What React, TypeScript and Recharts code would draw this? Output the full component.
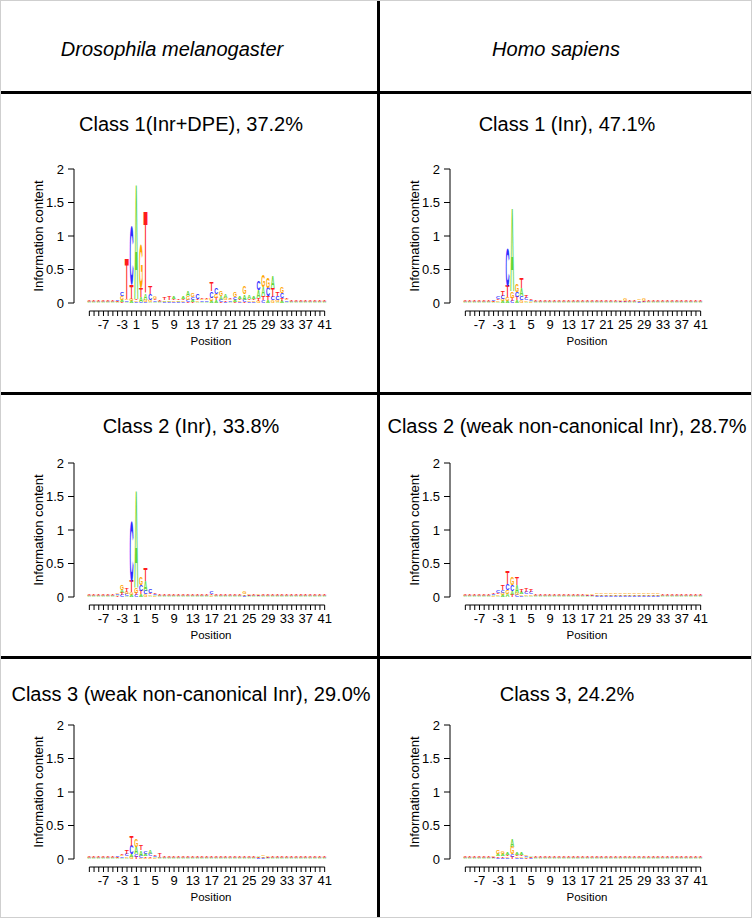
import React from 'react';
import { BarChart, Bar, XAxis, YAxis } from 'recharts';

// positions -10..41, there is no position 0
const positions = [
  -10, -9, -8, -7, -6, -5, -4, -3, -2, -1,
  1, 2, 3, 4, 5, 6, 7, 8, 9, 10,
  11, 12, 13, 14, 15, 16, 17, 18, 19, 20,
  21, 22, 23, 24, 25, 26, 27, 28, 29, 30,
  31, 32, 33, 34, 35, 36, 37, 38, 39, 40, 41,
];

const species = ['Drosophila melanogaster', 'Homo sapiens'];
const yTicks = [0, 0.5, 1, 1.5, 2];

// Drosophila class 1 (Inr+DPE)
const dmC1A = [
  .01, .01, .01, .01, .01, .01, .01, .03, .02, .03,
  1.76, .07, .10, .02, .02, .01, .02, .02, .03, .02,
  .03, .08, .03, .02, .02, .02, .03, .04, .05, .05,
  .02, .03, .03, .08, .05, .03, .12, .14, .04, .18,
  .02, .03, .02, .01, .01, .01, .01, .01, .01, .01, .01,
];
const dmC1C = [
  .01, .01, .01, .01, .01, .01, .02, .06, .02, .90,
  .02, .02, .02, .09, .02, .01, .01, .01, .02, .01,
  .02, .03, .04, .08, .02, .02, .10, .10, .03, .02,
  .02, .04, .02, .03, .02, .02, .14, .04, .13, .05,
  .06, .08, .02, .01, .01, .01, .01, .01, .01, .01, .01,
];
const dmC1G = [
  .01, .01, .01, .01, .01, .01, .01, .05, .02, .03,
  .02, .67, .03, .03, .04, .01, .01, .01, .02, .01,
  .02, .05, .06, .02, .02, .02, .05, .06, .08, .03,
  .02, .08, .02, .12, .02, .02, .03, .18, .16, .04,
  .03, .09, .02, .01, .01, .01, .01, .01, .01, .01, .01,
];
const dmC1T = [
  .01, .01, .01, .01, .01, .01, .01, .02, .62, .22,
  .02, .13, 1.24, .12, .02, .01, .04, .05, .02, .02,
  .02, .02, .02, .02, .02, .02, .14, .04, .02, .02,
  .02, .02, .02, .02, .02, .02, .04, .06, .06, .14,
  .06, .04, .02, .01, .01, .01, .01, .01, .01, .01, .01,
];

// Homo class 1 (Inr)
const hsC1A = [
  .01, .01, .01, .01, .01, .01, .01, .02, .03, .03,
  1.27, .04, .12, .02, .02, .01, .01, .01, .01, .01,
  .01, .01, .01, .01, .01, .01, .01, .01, .01, .01,
  .01, .01, .01, .01, .01, .01, .01, .02, .01, .01,
  .01, .01, .01, .01, .01, .01, .01, .01, .01, .01, .01,
];
const hsC1C = [
  .01, .01, .01, .01, .01, .01, .02, .03, .05, .58,
  .03, .07, .06, .03, .02, .01, .01, .01, .01, .01,
  .01, .01, .01, .01, .01, .01, .01, .01, .01, .01,
  .01, .01, .01, .01, .01, .01, .01, .01, .01, .01,
  .01, .01, .01, .01, .01, .01, .01, .01, .01, .01, .01,
];
const hsC1G = [
  .01, .01, .01, .01, .01, .01, .01, .02, .03, .06,
  .10, .12, .04, .02, .01, .01, .01, .01, .01, .01,
  .01, .01, .01, .01, .01, .01, .01, .01, .01, .01,
  .01, .01, .01, .02, .03, .01, .01, .02, .03, .01,
  .01, .01, .01, .01, .01, .01, .01, .01, .01, .01, .01,
];
const hsC1T = [
  .01, .01, .01, .01, .01, .01, .01, .02, .07, .17,
  .05, .05, .16, .03, .02, .01, .01, .01, .01, .01,
  .01, .01, .01, .01, .01, .01, .01, .01, .01, .01,
  .01, .01, .01, .01, .01, .01, .01, .01, .01, .01,
  .01, .01, .01, .01, .01, .01, .01, .01, .01, .01, .01,
];

// Drosophila class 2 (Inr)
const dmC2A = [
  .01, .01, .01, .01, .01, .01, .02, .05, .02, .03,
  1.48, .04, .15, .02, .02, .01, .01, .01, .01, .01,
  .01, .01, .01, .01, .01, .01, .02, .01, .01, .01,
  .01, .01, .01, .02, .01, .01, .01, .01, .01, .01,
  .01, .01, .01, .01, .01, .01, .01, .01, .01, .01, .01,
];
const dmC2C = [
  .01, .01, .01, .01, .01, .01, .02, .03, .03, .92,
  .03, .09, .05, .06, .02, .01, .01, .01, .01, .01,
  .01, .01, .01, .01, .01, .01, .03, .01, .01, .01,
  .01, .01, .01, .01, .01, .01, .01, .01, .01, .01,
  .01, .01, .01, .01, .01, .01, .01, .01, .01, .01, .01,
];
const dmC2G = [
  .01, .01, .01, .01, .01, .01, .02, .07, .03, .04,
  .07, .11, .04, .02, .01, .01, .01, .01, .01, .01,
  .01, .01, .01, .01, .01, .01, .01, .01, .01, .01,
  .01, .01, .01, .03, .02, .01, .02, .01, .01, .01,
  .01, .01, .01, .01, .01, .01, .01, .01, .01, .01, .01,
];
const dmC2T = [
  .01, .01, .01, .01, .01, .01, .01, .03, .05, .17,
  .03, .05, .20, .02, .02, .01, .01, .01, .01, .01,
  .01, .01, .01, .01, .01, .01, .02, .01, .01, .01,
  .01, .01, .01, .01, .01, .01, .01, .01, .01, .01,
  .01, .01, .01, .01, .02, .02, .02, .01, .01, .01, .01,
];

// Homo class 2 (weak non-canonical Inr)
const hsC2A = [
  .01, .01, .01, .01, .01, .01, .02, .02, .03, .05,
  .06, .12, .03, .02, .02, .01, .01, .01, .01, .01,
  .01, .01, .01, .01, .01, .01, .01, .01, .02, .02,
  .02, .02, .02, .02, .02, .02, .02, .02, .02, .02,
  .02, .02, .01, .01, .01, .01, .01, .01, .01, .01, .01,
];
const hsC2C = [
  .01, .01, .01, .01, .01, .01, .02, .03, .04, .10,
  .09, .03, .02, .04, .03, .01, .01, .01, .01, .01,
  .01, .01, .01, .01, .01, .01, .01, .01, .01, .01,
  .01, .01, .01, .01, .01, .01, .01, .01, .01, .01,
  .01, .01, .01, .01, .01, .01, .01, .01, .01, .01, .01,
];
const hsC2G = [
  .01, .01, .01, .01, .01, .01, .01, .02, .03, .05,
  .12, .03, .02, .02, .02, .01, .01, .01, .01, .01,
  .01, .01, .01, .01, .01, .01, .02, .02, .02, .02,
  .02, .02, .02, .02, .02, .02, .02, .02, .02, .02,
  .02, .02, .01, .01, .01, .01, .01, .01, .01, .01, .01,
];
const hsC2T = [
  .01, .01, .01, .01, .01, .01, .02, .02, .08, .19,
  .03, .12, .03, .05, .04, .01, .01, .01, .01, .01,
  .01, .01, .01, .01, .01, .01, .01, .01, .01, .01,
  .01, .01, .01, .01, .01, .01, .01, .01, .01, .01,
  .01, .01, .01, .01, .01, .01, .01, .01, .01, .01, .01,
];

// Drosophila class 3 (weak non-canonical Inr)
const dmC3A = [
  .01, .01, .01, .01, .01, .01, .01, .02, .02, .04,
  .11, .08, .03, .05, .02, .01, .01, .01, .01, .01,
  .01, .01, .01, .01, .01, .01, .01, .01, .01, .01,
  .01, .01, .01, .01, .01, .01, .02, .02, .01, .01,
  .01, .01, .01, .01, .01, .01, .01, .01, .01, .01, .01,
];
const dmC3C = [
  .01, .01, .01, .01, .01, .01, .02, .02, .03, .13,
  .04, .03, .03, .03, .02, .01, .01, .01, .01, .01,
  .01, .01, .01, .01, .01, .01, .01, .01, .01, .01,
  .01, .01, .01, .01, .01, .01, .01, .01, .01, .01,
  .01, .01, .01, .01, .01, .01, .01, .01, .01, .01, .01,
];
const dmC3G = [
  .01, .01, .01, .01, .01, .01, .01, .02, .02, .03,
  .12, .02, .02, .02, .01, .01, .01, .01, .01, .01,
  .01, .01, .01, .01, .01, .01, .01, .01, .01, .01,
  .01, .01, .01, .01, .01, .01, .01, .02, .02, .01,
  .01, .01, .01, .01, .01, .01, .01, .01, .01, .01, .01,
];
const dmC3T = [
  .01, .01, .01, .01, .01, .01, .01, .02, .06, .16,
  .03, .08, .02, .02, .02, .05, .01, .01, .01, .01,
  .01, .01, .01, .01, .01, .01, .01, .01, .01, .01,
  .01, .01, .01, .01, .01, .01, .01, .01, .01, .01,
  .01, .01, .01, .01, .01, .01, .01, .01, .01, .01, .01,
];

// Homo class 3
const hsC3A = [
  .01, .01, .01, .01, .01, .01, .01, .04, .03, .03,
  .12, .03, .03, .02, .02, .01, .01, .01, .01, .01,
  .01, .01, .01, .01, .01, .01, .01, .01, .01, .01,
  .01, .01, .01, .01, .01, .01, .01, .01, .01, .01,
  .01, .01, .01, .01, .01, .01, .01, .01, .01, .01, .01,
];
const hsC3C = [
  .01, .01, .01, .01, .01, .01, .01, .02, .02, .02,
  .04, .02, .02, .02, .01, .01, .01, .01, .01, .01,
  .01, .01, .01, .01, .01, .01, .01, .01, .01, .01,
  .01, .01, .01, .01, .01, .01, .01, .01, .01, .01,
  .01, .01, .01, .01, .01, .01, .01, .01, .01, .01, .01,
];
const hsC3G = [
  .01, .01, .01, .01, .01, .01, .02, .05, .04, .02,
  .11, .02, .02, .02, .01, .01, .01, .01, .01, .01,
  .01, .01, .01, .01, .01, .01, .01, .01, .01, .01,
  .01, .01, .01, .01, .01, .01, .01, .01, .01, .01,
  .01, .01, .01, .01, .01, .01, .01, .01, .01, .01, .01,
];
const hsC3T = [
  .01, .01, .01, .01, .01, .01, .01, .02, .02, .02,
  .03, .02, .02, .01, .01, .01, .01, .01, .01, .01,
  .01, .01, .01, .01, .01, .01, .01, .01, .01, .01,
  .01, .01, .01, .01, .01, .01, .01, .01, .01, .01,
  .01, .01, .01, .01, .01, .01, .01, .01, .01, .01, .01,
];

const FONT = '"Liberation Sans", Arial, Helvetica, sans-serif';
const letterColor: Record<string, string> = {
  A: '#62d63a',
  C: '#2d2dff',
  G: '#ffa500',
  T: '#ff1c1c',
};

// chart geometry (pixels inside each panel's svg)
const CHART_W = 376;
const MARGIN_TOP = 10;
const PLOT_H = 134;
const AXIS_W = 86;
const RIGHT = 50;
const X_AXIS_H = 50;
const PLOT_W = CHART_W - AXIS_W - RIGHT;
const STEP = PLOT_W / positions.length;

function buildRows(a: number[], c: number[], g: number[], t: number[]) {
  return positions.map((pos, i) => {
    // smallest letter at the bottom, largest on top
    const items: [string, number][] = [
      ['A', a[i]],
      ['C', c[i]],
      ['G', g[i]],
      ['T', t[i]],
    ];
    items.sort((p, q) => p[1] - q[1]);
    const row: any = { pos };
    items.forEach(([l, v], k) => {
      row['h' + k] = v;
      row['l' + k] = l;
    });
    return row;
  });
}

// letter glyph stretched to fill its stacked bar
function makeGlyph(k: number) {
  return (props: any) => {
    const { x, y, width, height, payload } = props;
    if (!height || height < 0.15) return <g />;
    const l = payload['l' + k];
    return (
      <text
        x={0}
        y={0}
        fontSize={100}
        fontWeight="bold"
        fontFamily={FONT}
        fill={letterColor[l]}
        textLength={100}
        lengthAdjust="spacingAndGlyphs"
        transform={`translate(${x},${y + height}) scale(${width / 100},${height / 71.6})`}
      >
        {l}
      </text>
    );
  };
}

const glyphs = [0, 1, 2, 3].map((k) => makeGlyph(k));

function XTick(props: any) {
  const { x, index, payload } = props;
  const base = MARGIN_TOP + PLOT_H + 8;
  const v = payload.value;
  const showLabel = ((v % 4) + 4) % 4 === 1;
  return (
    <g>
      {index === 0 && (
        <>
          <line x1={x} x2={x + STEP * (positions.length - 1)} y1={base} y2={base} stroke="#000" strokeWidth={1} />
          <text
            x={210}
            y={base + 30}
            textAnchor="middle"
            dominantBaseline="central"
            fontSize={11.5}
            fontFamily={FONT}
            fill="#000"
          >
            Position
          </text>
        </>
      )}
      <line x1={x} x2={x} y1={base} y2={base + 5} stroke="#000" strokeWidth={1} />
      {showLabel && (
        <text
          x={x}
          y={base + 13.5}
          textAnchor="middle"
          dominantBaseline="central"
          fontSize={13}
          fontFamily={FONT}
          fill="#000"
        >
          {v}
        </text>
      )}
    </g>
  );
}

function YTick(props: any) {
  const { y, index, payload } = props;
  const ax = 73;
  return (
    <g>
      {index === 0 && (
        <>
          <line x1={ax} x2={ax} y1={y} y2={y - PLOT_H} stroke="#000" strokeWidth={1} />
          <text
            x={0}
            y={0}
            transform={`translate(37,${MARGIN_TOP + PLOT_H / 2}) rotate(-90)`}
            textAnchor="middle"
            dominantBaseline="central"
            fontSize={13}
            fontFamily={FONT}
            fill="#000"
          >
            Information content
          </text>
        </>
      )}
      <line x1={ax - 6} x2={ax} y1={y} y2={y} stroke="#000" strokeWidth={1} />
      <text
        x={ax - 10}
        y={y}
        textAnchor="end"
        dominantBaseline="central"
        fontSize={13}
        fontFamily={FONT}
        fill="#000"
      >
        {payload.value}
      </text>
    </g>
  );
}

interface PanelProps {
  title: string;
  left: number;
  titleY: number;
  plotTop: number;
  a: number[];
  c: number[];
  g: number[];
  t: number[];
}

function LogoPanel({ title, left, titleY, plotTop, a, c, g, t }: PanelProps) {
  const rows = buildRows(a, c, g, t);
  return (
    <>
      <div
        style={{
          position: 'absolute',
          left: left + 190 - 188,
          top: titleY - 12,
          width: 376,
          textAlign: 'center',
          fontFamily: FONT,
          fontSize: 20,
          lineHeight: '24px',
          whiteSpace: 'nowrap',
        }}
      >
        {title}
      </div>
      <div style={{ position: 'absolute', left, top: plotTop - MARGIN_TOP }}>
        <BarChart
          width={CHART_W}
          height={MARGIN_TOP + PLOT_H + X_AXIS_H}
          data={rows}
          margin={{ top: MARGIN_TOP, right: RIGHT, bottom: 0, left: 0 }}
          barCategoryGap="3%"
        >
          <XAxis
            dataKey="pos"
            type="category"
            interval={0}
            height={X_AXIS_H}
            axisLine={false}
            tickLine={false}
            tick={<XTick />}
          />
          <YAxis
            type="number"
            domain={[0, 2]}
            ticks={yTicks}
            width={AXIS_W}
            axisLine={false}
            tickLine={false}
            tick={<YTick />}
          />
          {[0, 1, 2, 3].map((k) => (
            <Bar key={k} dataKey={'h' + k} stackId="logo" isAnimationActive={false} shape={glyphs[k]} />
          ))}
        </BarChart>
      </div>
    </>
  );
}

export default function App() {
  return (
    <div
      style={{
        position: 'relative',
        width: 752,
        height: 918,
        background: '#fff',
        boxSizing: 'border-box',
        border: '1px solid #cfcfcf',
        overflow: 'hidden',
      }}
    >
      <style>{'body{margin:0}'}</style>
      {/* header */}
      <div style={{ position: 'absolute', left: 171 - 150, top: 36, width: 300, textAlign: 'center', fontFamily: FONT, fontSize: 20, fontStyle: 'italic', lineHeight: '24px' }}>
        {species[0]}
      </div>
      <div style={{ position: 'absolute', left: 555 - 150, top: 36, width: 300, textAlign: 'center', fontFamily: FONT, fontSize: 20, fontStyle: 'italic', lineHeight: '24px' }}>
        {species[1]}
      </div>

      <LogoPanel title="Class 1(Inr+DPE), 37.2%" left={0} titleY={123} plotTop={167.5} a={dmC1A} c={dmC1C} g={dmC1G} t={dmC1T} />
      <LogoPanel title="Class 1 (Inr), 47.1%" left={376} titleY={123} plotTop={167.5} a={hsC1A} c={hsC1C} g={hsC1G} t={hsC1T} />
      <LogoPanel title="Class 2 (Inr), 33.8%" left={0} titleY={425} plotTop={462} a={dmC2A} c={dmC2C} g={dmC2G} t={dmC2T} />
      <LogoPanel title="Class 2 (weak non-canonical Inr), 28.7%" left={376} titleY={425} plotTop={462} a={hsC2A} c={hsC2C} g={hsC2G} t={hsC2T} />
      <LogoPanel title="Class 3 (weak non-canonical Inr), 29.0%" left={0} titleY={693} plotTop={724} a={dmC3A} c={dmC3C} g={dmC3G} t={dmC3T} />
      <LogoPanel title="Class 3, 24.2%" left={376} titleY={693} plotTop={724} a={hsC3A} c={hsC3C} g={hsC3G} t={hsC3T} />

      {/* grid lines */}
      <div style={{ position: 'absolute', left: 0, top: 90, width: 752, height: 3, background: '#000' }} />
      <div style={{ position: 'absolute', left: 0, top: 391, width: 752, height: 3, background: '#000' }} />
      <div style={{ position: 'absolute', left: 0, top: 655, width: 752, height: 3, background: '#000' }} />
      <div style={{ position: 'absolute', left: 376, top: 0, width: 3, height: 918, background: '#000' }} />
    </div>
  );
}
